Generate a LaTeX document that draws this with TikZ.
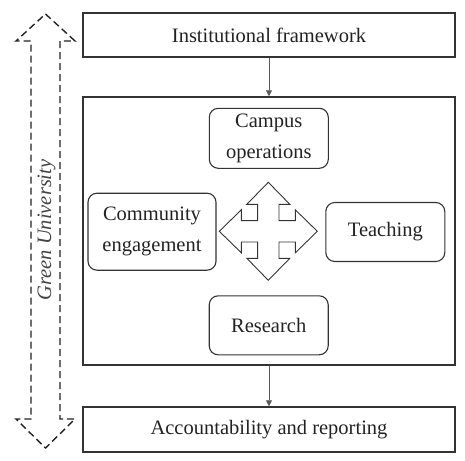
\documentclass[tikz,border=0pt]{standalone}
\usepackage{fontspec}
\setmainfont{Liberation Serif}
\usetikzlibrary{arrows.meta}
\definecolor{Ink}{HTML}{222222}
\definecolor{Frame}{HTML}{333333}
\definecolor{Wire}{HTML}{5A5A5A}

\begin{document}
\begin{tikzpicture}[x=1pt, y=-1pt,
    font=\fontsize{20.5}{31}\selectfont, text=Ink,
    layer/.style={draw=Frame, line width=1.5pt, minimum width=372pt, inner sep=0pt},
    pillar/.style={draw=Frame, rounded corners=9pt, line width=1.1pt, align=center, inner sep=0pt},
    link/.style={Wire, line width=0.8pt, -{Triangle[length=6pt,width=6pt]}}]
    \useasboundingbox (0,0) rectangle (465,460);
    % outer layers
    \node[layer, minimum height=44pt] (framework) at (269,35) {Institutional framework};
    \node[layer, minimum height=268pt] (hub) at (269,231) {};
    \node[layer, minimum height=45pt] (reporting) at (269,429.5) {Accountability and reporting};
    \draw[link] (framework) -- (hub);
    \draw[link] (hub) -- (reporting);
    % four pillars
    \node[pillar, minimum width=119pt, minimum height=60pt] (campus) at (268.8,138.3) {Campus\\operations};
    \node[pillar, minimum width=128pt, minimum height=77pt] (community) at (152,231.7) {Community\\engagement};
    \node[pillar, minimum width=119pt, minimum height=59pt] (teaching) at (385.3,232) {Teaching};
    \node[pillar, minimum width=119pt, minimum height=59pt] (research) at (268.7,325.3) {Research};
    % quad arrow in the middle
    \draw[Frame, line width=0.9pt, line join=miter, shift={(268.3,231.3)}]
      (0,-49) -- (21.5,-27) -- (10.7,-27) -- (10.7,-10.7) -- (27,-10.7) -- (27,-21.5)
      -- (49,0) -- (27,21.5) -- (27,10.7) -- (10.7,10.7) -- (10.7,27) -- (21.5,27)
      -- (0,49) -- (-21.5,27) -- (-10.7,27) -- (-10.7,10.7) -- (-27,10.7) -- (-27,21.5)
      -- (-49,0) -- (-27,-21.5) -- (-27,-10.7) -- (-10.7,-10.7) -- (-10.7,-27) -- (-21.5,-27)
      -- cycle;
    % dashed double arrow on the left
    \draw[Ink, line width=1.4pt, dash pattern=on 7pt off 4pt]
      (45.5,14) -- (75,41) -- (60,41) -- (60,419) -- (75,419) -- (45.5,448)
      -- (16,419) -- (31,419) -- (31,41) -- (16,41) -- cycle;
    \node[rotate=90, font=\fontsize{20.5}{24}\selectfont\itshape, text=Ink!85] (green) at (46.5,230) {Green University};
\end{tikzpicture}
\end{document}
